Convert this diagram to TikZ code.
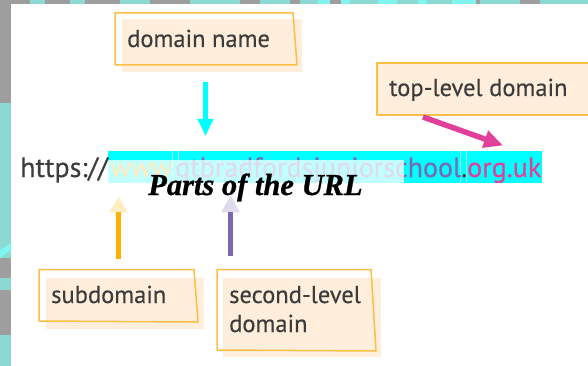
\documentclass[tikz,border=0pt]{standalone}
\usepackage{fontspec}
\usetikzlibrary{arrows.meta}
\setmainfont{PT Sans}
\newfontfamily\bodyfont[FakeBold=0.3]{PT Sans}
\newfontfamily\titlefont[FakeBold=0.8]{Liberation Serif Bold Italic}
\definecolor{backgrey}{HTML}{9E9E9E}
\definecolor{backteal}{HTML}{8CD8D2}
\definecolor{backbright}{HTML}{80F4EE}
\definecolor{boxfill}{HTML}{FFEEDC}
\definecolor{boxline}{HTML}{FBBF45}
\definecolor{inktext}{HTML}{3C3C3C}
\definecolor{arroworange}{HTML}{FFB000}
\definecolor{arrowpurple}{HTML}{7B68B0}
\definecolor{arrowpink}{HTML}{E0409A}
\definecolor{bandcyan}{HTML}{00FFFF}
\tikzset{
  x=1pt,y=-1pt,
  boxshade/.style={fill=boxfill,draw=none},
  boxedge/.style={draw=boxline,line width=1.5pt,line join=round},
  label/.style={anchor=base west,inner sep=0pt,text=inktext,font=\bodyfont\fontsize{24.5}{28}\selectfont},
  url/.style={anchor=base west,inner sep=0pt,font=\bodyfont\fontsize{28}{32}\selectfont},
  shaft/.style={line width=5.5pt},
}
\begin{document}
\begin{tikzpicture}
\useasboundingbox (0,0) rectangle (588,366);
% slide background showing at the edges
\fill[white] (0,0) rectangle (588,366);
\fill[backgrey] (0,0) rectangle (11,366);
\fill[backgrey] (0,0) rectangle (588,4);
\fill[backteal] (0,103) rectangle (11,258);
\fill[backteal] (0,278) rectangle (11,290);
\fill[backteal] (0,335) rectangle (11,366);
\fill[backbright] (0,250) -- (11,243) -- (11,250) -- (0,258) -- cycle;
\foreach \a/\b in {30/45,70/85,120/150,190/240,260/290,300/318,350/378,397/418,427/452,480/520,540/588}
  \fill[backteal] (\a,0) rectangle (\b,4);
\foreach \a/\b in {318/330,341/350,378/397,418/427,452/476}
  \fill[backbright] (\a,0) rectangle (\b,4);
% cyan band and URL
\fill[bandcyan] (108,151) rectangle (542,183);
\draw[white!60!bandcyan,line width=.5pt] (172,151) -- (172,183) (178,151) -- (178,183) (460,151) -- (460,183) (466,151) -- (466,183);
\node[url,text=inktext] (scheme) at (20,177) {https://};
\node[url,text=arroworange] (sub) at (110,177) {www};
\node[url,text=arrowpurple] (second) at (175,177) {gtbradfordsjuniorschool};
\node[url,text=inktext] (dot) at (461,177) {.};
\node[url,text=arrowpink] (top) at (467,177) {org.uk};
% boxes
\fill[boxshade] (122,19) rectangle (302,72);
\draw[boxedge] (115,13) -- (293,13) -- (297,65) -- (115,65) -- cycle;
\node[label] (domainname) at (127,47) {domain name};
\fill[boxshade] (377,63) rectangle (588,115);
\draw[boxedge] (588,63) -- (377,63) -- (377,115) -- (588,115);
\node[label] (topdomain) at (389,96) {top-level domain};
\fill[boxshade] (46,278) rectangle (204,329);
\draw[boxedge] (39,269.5) -- (194,269.5) -- (198,322) -- (39,321) -- cycle;
\node[label] (subdomain) at (51,303) {subdomain};
\fill[boxshade] (223,278) rectangle (381,357);
\draw[boxedge] (217,269.5) -- (371,269.5) -- (376,351) -- (217,350) -- cycle;
\node[label] (secondlevel) at (229,303) {second-level};
\node[label] (secondword) at (229,332) {domain};
% arrows
\coordinate (a1s) at (205.5,82); \coordinate (a1e) at (205.5,136);
\coordinate (a2s) at (118.5,259); \coordinate (a2e) at (118.5,197);
\coordinate (a3s) at (230.5,256); \coordinate (a3e) at (230.5,195);
\coordinate (a4s) at (423,117); \coordinate (a4e) at (503,145.5);
\draw[shaft,bandcyan,-{Triangle[length=17pt,width=15pt]}] (a1s) -- (a1e);
\draw[shaft,arroworange,-{Triangle[length=15pt,width=17pt]}] (a2s) -- (a2e);
\draw[shaft,arrowpurple,-{Triangle[length=17pt,width=17pt]}] (a3s) -- (a3e);
\draw[shaft,arrowpink,-{Triangle[length=19pt,width=17pt]}] (a4s) -- (a4e);
% translucent title panel
\fill[white,fill opacity=.76] (108,160) rectangle (404,212);
\node[anchor=base west,inner sep=0pt,text=black,font=\titlefont\fontsize{30.5}{34}\selectfont] (title) at (148,195) {Parts of the URL};
\end{tikzpicture}
\end{document}
